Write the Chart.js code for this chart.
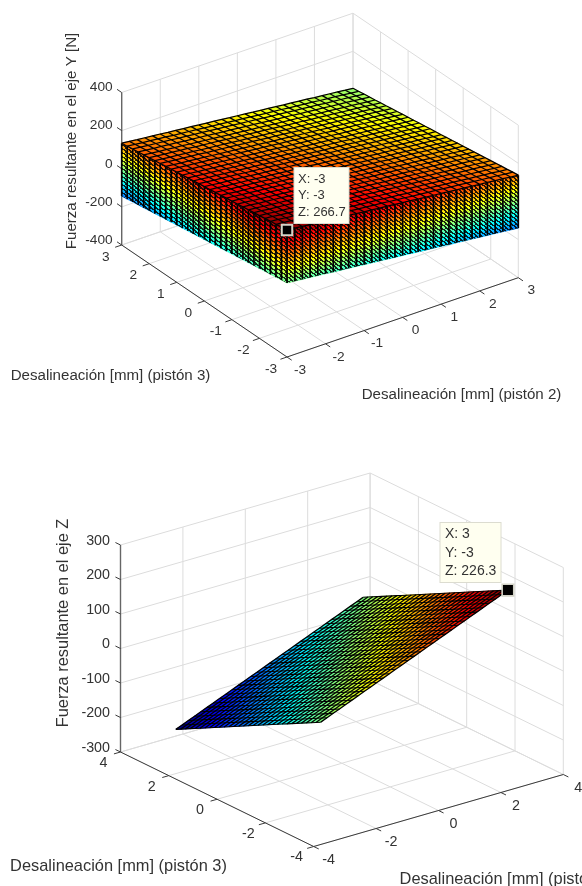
<!doctype html>
<html><head><meta charset="utf-8">
<style>html,body{margin:0;padding:0;background:#fff;overflow:hidden}canvas{display:block;filter:blur(.5px)}</style>
<script src="https://cdn.jsdelivr.net/npm/chart.js@4"></script>
</head><body>
<canvas id="c1" width="582" height="443"></canvas>
<canvas id="c2" width="582" height="443"></canvas>
<script>
// ---------- data ----------
const meshNodes = [-3,-2.8,-2.6,-2.4,-2.2,-2,-1.8,-1.6,-1.4,-1.2,-1,-0.8,-0.6,-0.4,-0.2,0,0.2,0.4,0.6,0.8,1,1.2,1.4,1.6,1.8,2,2.2,2.4,2.6,2.8,3];
// Panel 1 (force on Y): upper sheet = centre + contribution of each axis; the wall drops to the lower sheet
const forceYCentre = 136;
const forceYByPiston2 = [64,60,55,51,47,43,38,34,30,26,21,17,13,9,4,0,-4,-9,-13,-17,-21,-26,-30,-34,-38,-43,-47,-51,-55,-60,-64];
const forceYByPiston3 = [66,62,57,53,49,44,40,35,31,26,22,18,13,9,4,0,-4,-9,-13,-18,-22,-26,-31,-35,-40,-44,-49,-53,-57,-62,-66];
const forceYWallDrop = [0,14,28,42,56,70,84,98,112,126,139,153,167,181,195,209,223,237,251,265,278];
// Panel 2 (force on Z)
const forceZByPiston2 = [-113.1,-105.6,-98,-90.5,-83,-75.4,-67.9,-60.3,-52.8,-45.2,-37.7,-30.2,-22.6,-15.1,-7.5,0,7.5,15.1,22.6,30.2,37.7,45.2,52.8,60.3,67.9,75.4,83,90.5,98,105.6,113.1];
const forceZByPiston3 = [113.2,105.6,98,90.5,83,75.4,67.9,60.3,52.8,45.2,37.7,30.2,22.6,15.1,7.5,0,-7.5,-15.1,-22.6,-30.2,-37.7,-45.2,-52.8,-60.3,-67.9,-75.4,-83,-90.5,-98,-105.6,-113.2];
// Ticks
const panel1PistonTicks = [-3,-2,-1,0,1,2,3];
const panel1ForceTicks = [-400,-200,0,200,400];
const panel2PistonTicks = [-4,-2,0,2,4];
const panel2ForceTicks = [-300,-200,-100,0,100,200,300];
// Data tips
const tip1 = {x:-3,y:-3,z:266.7};
const tip2 = {x:3,y:-3,z:226.3};

// ---------- colormap ----------
function jet(t){
  t=Math.max(0,Math.min(1,t));
  const c=v=>Math.round(255*Math.max(0,Math.min(1,v)));
  return `rgb(${c(1.5-Math.abs(4*t-3))},${c(1.5-Math.abs(4*t-2))},${c(1.5-Math.abs(4*t-1))})`;
}

// ---------- panel geometry ----------
function makeProjector(g){
  return (x,y,z)=>{
    const u=(x-g.lim[0])/(g.lim[1]-g.lim[0]), v=(y-g.lim[0])/(g.lim[1]-g.lim[0]), w=(z-g.zlim[0])/(g.zlim[1]-g.zlim[0]);
    return {x:g.F[0]+u*(g.R[0]-g.F[0])+v*(g.L[0]-g.F[0]), y:g.F[1]+u*(g.R[1]-g.F[1])+v*(g.L[1]-g.F[1])-w*g.H};
  };
}
function lineDs(pts,color,width){
  return {type:'scatter',showLine:true,data:pts,borderColor:color,borderWidth:width,pointRadius:0,fill:false};
}
function frameDatasets(g,P,ticks,zticks){
  const out=[], [a,b]=g.lim, [zA,zB]=g.zlim;
  const grid='#dcdcdc';
  for(const t of ticks){
    out.push(lineDs([P(t,a,zA),P(t,b,zA)],grid,1));
    out.push(lineDs([P(a,t,zA),P(b,t,zA)],grid,1));
    out.push(lineDs([P(t,b,zA),P(t,b,zB)],grid,1));
    out.push(lineDs([P(b,t,zA),P(b,t,zB)],grid,1));
  }
  for(const z of zticks){
    out.push(lineDs([P(a,b,z),P(b,b,z)],grid,1));
    out.push(lineDs([P(b,a,z),P(b,b,z)],grid,1));
  }
  return out;
}
function axisDatasets(g,P,ticks,zticks){
  const out=[], [a,b]=g.lim, [zA,zB]=g.zlim, ink='#3a3a3a';
  out.push(lineDs([P(a,b,zA),P(a,b,zB)],'#666',1.4));
  out.push(lineDs([P(a,a,zA),P(a,b,zA)],ink,1));
  out.push(lineDs([P(a,a,zA),P(b,a,zA)],ink,1));
  for(const t of ticks){
    out.push(lineDs([P(a,t,zA),P(a-g.tick,t,zA)],ink,1));
    out.push(lineDs([P(t,a,zA),P(t,a-g.tick,zA)],ink,1));
  }
  for(const z of zticks) out.push(lineDs([P(a,b,z),P(a,b+g.tick,z)],ink,1));
  return out;
}
function meshDataset(nodes,cols,rows,clim,style){
  return {type:'scatter',data:nodes,pointRadius:0,showLine:false,mesh:{cols,rows,clim,...style}};
}
function markerDataset(p,r,bw){
  return {type:'scatter',data:[p],pointStyle:'rect',pointRadius:r,pointBackgroundColor:'#000',pointBorderColor:'#d4d4c8',pointBorderWidth:bw,showLine:false};
}
function stipple(ctx){
  // fine stepped texture of the very dense wall mesh
  const c=document.createElement('canvas');c.width=5;c.height=4;
  const t=c.getContext('2d');t.fillStyle='rgba(0,0,0,.85)';
  [[0,0],[1,0],[2,0],[2,1],[3,1],[4,1],[4,2],[0,2],[1,3],[0,3]].forEach(p=>t.fillRect(p[0],p[1],1,1));
  return ctx.createPattern(c,'repeat');
}
const meshPlugin={id:'mesh',afterDatasetDraw(chart,args){
  const ds=chart.data.datasets[args.index]; if(!ds.mesh) return;
  const m=ds.mesh, el=chart.getDatasetMeta(args.index).data, ctx=chart.ctx, at=(i,j)=>i*m.rows+j;
  ctx.save();
  for(let i=0;i<m.cols-1;i++)for(let j=0;j<m.rows-1;j++){
    const q=[at(i,j),at(i+1,j),at(i+1,j+1),at(i,j+1)];
    const f=q.reduce((s,k)=>s+ds.data[k].f,0)/4;
    const col=jet((f-m.clim[0])/(m.clim[1]-m.clim[0]));
    ctx.fillStyle=col;ctx.strokeStyle=col;ctx.lineWidth=.6;
    ctx.beginPath();q.forEach((k,n)=>n?ctx.lineTo(el[k].x,el[k].y):ctx.moveTo(el[k].x,el[k].y));ctx.closePath();ctx.fill();ctx.stroke();
  }
  if(m.texture){
    const last=m.cols-1, end=m.rows-1, corners=[at(0,0),at(last,0),at(last,end),at(0,end)];
    ctx.fillStyle=stipple(ctx);
    ctx.beginPath();corners.forEach((k,n)=>n?ctx.lineTo(el[k].x,el[k].y):ctx.moveTo(el[k].x,el[k].y));ctx.closePath();ctx.fill();
  }
  ctx.lineCap='butt';
  if(m.rowWidth){
    ctx.strokeStyle=m.rowColor;ctx.lineWidth=m.rowWidth;
    for(let j=0;j<m.rows;j++){ctx.beginPath();for(let i=0;i<m.cols;i++){const e=el[at(i,j)];i?ctx.lineTo(e.x,e.y):ctx.moveTo(e.x,e.y);}ctx.stroke();}
  }
  ctx.strokeStyle=m.colColor;ctx.lineWidth=m.colWidth;
  for(let i=0;i<m.cols;i++){ctx.beginPath();for(let j=0;j<m.rows;j++){const e=el[at(i,j)];j?ctx.lineTo(e.x,e.y):ctx.moveTo(e.x,e.y);}ctx.stroke();}
  ctx.restore();
}};
const textPlugin={id:'texts',afterDraw(chart){
  const ctx=chart.ctx, sx=chart.scales.x, sy=chart.scales.y, o=chart.options.plugins.texts;
  ctx.save();
  const px=v=>sx.getPixelForValue(v), py=v=>sy.getPixelForValue(v);
  for(const t of o.items){
    ctx.font=t.font;ctx.fillStyle=t.color||'#333';ctx.textAlign=t.align||'center';ctx.textBaseline='middle';
    if(t.rot){ctx.save();ctx.translate(px(t.x),py(t.y));ctx.rotate(t.rot);ctx.fillText(t.s,0,0);ctx.restore();}
    else ctx.fillText(t.s,px(t.x),py(t.y));
  }
  const b=o.box;
  ctx.fillStyle='#fffff0';ctx.strokeStyle='#dcdcd0';ctx.lineWidth=1;
  ctx.fillRect(px(b.x),py(b.y),b.w,b.h);ctx.strokeRect(px(b.x),py(b.y),b.w,b.h);
  ctx.font=b.font;ctx.fillStyle='#333';ctx.textAlign='left';ctx.textBaseline='middle';
  b.lines.forEach((s,i)=>ctx.fillText(s,px(b.x)+b.pad,py(b.y)+b.first+i*b.step));
  ctx.restore();
}};
function build(id,datasets,texts){
  // Chart.js paints the first dataset last, so the painter's order is reversed here
  new Chart(document.getElementById(id),{
    type:'scatter',data:{datasets:datasets.slice().reverse()},
    plugins:[meshPlugin,textPlugin],
    options:{responsive:false,animation:false,events:[],layout:{padding:0,autoPadding:false},
      scales:{x:{type:'linear',min:0,max:582,display:false},y:{type:'linear',min:0,max:443,reverse:true,display:false}},
      plugins:{legend:{display:false},tooltip:{enabled:false},texts}}
  });
}

// ---------- panel 1 ----------
(function(){
  const g={lim:[-3,3],zlim:[-400,400],F:[287,357],R:[518.3,277.7],L:[121.7,245],H:152.5,tick:.17};
  const P=makeProjector(g), n=meshNodes.length, d=forceYWallDrop.length;
  const clim=[-272,266.7];
  const upper=(i,j)=>forceYCentre+forceYByPiston2[i]+forceYByPiston3[j];
  const node=(x,y,f)=>({...P(x,y,f),f});
  const top=[],wallA=[],wallB=[];
  meshNodes.forEach((x,i)=>meshNodes.forEach((y,j)=>top.push(node(x,y,upper(i,j)))));
  meshNodes.forEach((x,i)=>forceYWallDrop.forEach(k=>wallA.push(node(x,-3,upper(i,0)-k))));
  meshNodes.forEach((y,j)=>forceYWallDrop.forEach(k=>wallB.push(node(-3,y,upper(0,j)-k))));
  const wallStyle={texture:true,rowWidth:0,colColor:'#000',colWidth:1.7};
  const topStyle={rowColor:'#000',rowWidth:1.25,colColor:'#000',colWidth:1.25};
  const ds=[
    ...frameDatasets(g,P,panel1PistonTicks,panel1ForceTicks),
    ...axisDatasets(g,P,panel1PistonTicks,panel1ForceTicks),
    meshDataset(wallA,n,d,clim,wallStyle),
    meshDataset(wallB,n,d,clim,wallStyle),
    meshDataset(top,n,n,clim,topStyle),
    markerDataset(P(tip1.x,tip1.y,tip1.z),7.4,2)
  ];
  const tf='13.7px "Liberation Sans"', items=[];
  panel1ForceTicks.forEach(z=>{const p=P(-3,3,z);items.push({s:String(z),x:p.x-9,y:p.y-5,font:tf,align:'right'});});
  panel1PistonTicks.forEach(t=>{
    const a=P(-3,t,-400),b=P(t,-3,-400);
    items.push({s:String(t),x:a.x-16,y:a.y+12,font:tf});
    items.push({s:String(t),x:b.x+13,y:b.y+13,font:tf});
  });
  const lf='15.1px "Liberation Sans"';
  items.push({s:'Desalineación [mm] (pistón 3)',x:110.5,y:376,font:lf});
  items.push({s:'Desalineación [mm] (pistón 2)',x:461.5,y:395,font:lf});
  items.push({s:'Fuerza resultante en el eje Y [N]',x:72,y:141,font:lf,rot:-Math.PI/2});
  build('c1',ds,{items,box:{x:294,y:167.5,w:55,h:56,pad:4,first:12,step:16.3,font:'13px "Liberation Sans"',lines:[`X: ${tip1.x}`,`Y: ${tip1.y}`,`Z: ${tip1.z}`]}});
})();

// ---------- panel 2 ----------
(function(){
  const g={lim:[-4,4],zlim:[-300,300],F:[313.7,403.5],R:[563.3,331.5],L:[120.5,309],H:207,tick:.21};
  const P=makeProjector(g), n=meshNodes.length;
  const clim=[-226.3,226.3];
  const plane=[];
  meshNodes.forEach((x,i)=>meshNodes.forEach((y,j)=>{const f=forceZByPiston2[i]+forceZByPiston3[j];plane.push({...P(x,y,f),f});}));
  const ds=[
    ...frameDatasets(g,P,panel2PistonTicks,panel2ForceTicks),
    ...axisDatasets(g,P,panel2PistonTicks,panel2ForceTicks),
    meshDataset(plane,n,n,clim,{rowColor:'#000',rowWidth:1.3,colColor:'#000',colWidth:1.05}),
    markerDataset(P(tip2.x,tip2.y,tip2.z),8.2,1.6)
  ];
  const tf='14.3px "Liberation Sans"', items=[];
  panel2ForceTicks.forEach(z=>{const p=P(-4,4,z);items.push({s:String(z),x:p.x-10.5,y:p.y-4,font:tf,align:'right'});});
  panel2PistonTicks.forEach(t=>{
    const a=P(-4,t,-300),b=P(t,-4,-300);
    items.push({s:String(t),x:a.x-17,y:a.y+11,font:tf});
    items.push({s:String(t),x:b.x+15,y:b.y+13.5,font:tf});
  });
  const lf='16.4px "Liberation Sans"';
  items.push({s:'Desalineación [mm] (pistón 3)',x:118.5,y:423,font:lf});
  items.push({s:'Desalineación [mm] (pistón 2)',x:508,y:436,font:lf});
  items.push({s:'Fuerza resultante en el eje Z',x:63,y:180,font:lf,rot:-Math.PI/2});
  build('c2',ds,{items,box:{x:440,y:79.5,w:61,h:60,pad:5,first:12,step:18.3,font:'14px "Liberation Sans"',lines:[`X: ${tip2.x}`,`Y: ${tip2.y}`,`Z: ${tip2.z}`]}});
})();
</script>
</body></html>
